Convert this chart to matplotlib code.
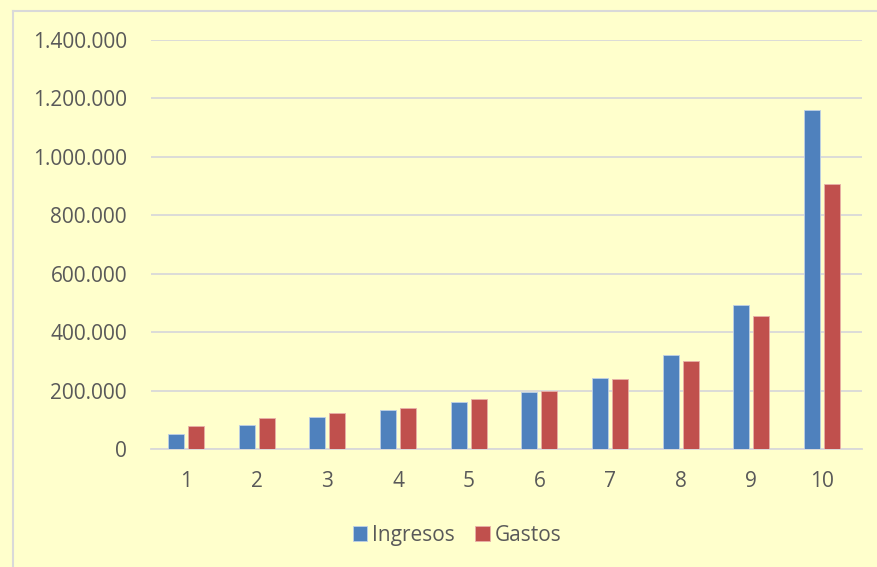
import matplotlib
matplotlib.use("Agg")
import matplotlib.pyplot as plt
from matplotlib.lines import Line2D
from matplotlib.ticker import FuncFormatter, MultipleLocator
import numpy as np

categories = ["1", "2", "3", "4", "5", "6", "7", "8", "9", "10"]
ingresos = [51000, 84000, 109000, 133000, 162000, 196000, 245000, 322000, 493000, 1160000]
gastos = [80000, 106000, 124000, 142000, 171000, 198000, 241000, 302000, 457000, 909000]
series_names = ["Ingresos", "Gastos"]

BG = "#FFFFCC"
BLUE = "#4F81BD"
RED = "#C0504D"
TXT = "#595959"
GRID = "#D9D9D9"

plt.rcParams["font.family"] = ["Open Sans", "DejaVu Sans"]

fig = plt.figure(figsize=(8.78, 5.67), dpi=100, facecolor=BG)
ax = fig.add_axes([150.7 / 878, 1 - 449.3 / 567, (862 - 150.7) / 878, (449.3 - 40) / 567])
ax.set_facecolor(BG)

x = np.arange(1, len(categories) + 1)
w = 0.226
off = 0.141
ax.bar(x - off, ingresos, w, color=BLUE, edgecolor="#BFD0E6", linewidth=0.6, label=series_names[0], zorder=3)
ax.bar(x + off, gastos, w, color=RED, edgecolor="#E8B0A8", linewidth=0.6, label=series_names[1], zorder=3)

ax.set_ylim(0, 1400000)
ax.set_xlim(0.5, 10.566)
ax.yaxis.set_major_locator(MultipleLocator(200000))
ax.yaxis.set_major_formatter(FuncFormatter(lambda v, p: f"{int(v):,}".replace(",", ".")))
ax.set_xticks(x)
ax.set_xticklabels(categories)
ax.grid(axis="y", color=GRID, linewidth=1.3, zorder=0)
for s in ["left", "right", "top"]:
    ax.spines[s].set_visible(False)
ax.spines["bottom"].set_color(GRID)
ax.spines["bottom"].set_linewidth(1.3)
ax.tick_params(axis="both", length=0, labelsize=15, colors=TXT)
ax.tick_params(axis="y", pad=17)
ax.tick_params(axis="x", pad=15.5)

# outer chart border (top and left visible)
fig.add_artist(Line2D([13 / 878, 13 / 878], [0, 1 - 11 / 567], transform=fig.transFigure, color="#D9D9D9", linewidth=1.5))
fig.add_artist(Line2D([13 / 878, 1], [1 - 11 / 567, 1 - 11 / 567], transform=fig.transFigure, color="#D9D9D9", linewidth=1.5))

leg = fig.legend(loc="center", bbox_to_anchor=(457 / 878, 1 - 535.5 / 567), ncol=2, frameon=False,
                 fontsize=15, handlelength=0.7, handleheight=0.7, handletextpad=0.22, columnspacing=1.0,
                 labelcolor=TXT)

fig.savefig("out.png", dpi=100, facecolor=BG)
